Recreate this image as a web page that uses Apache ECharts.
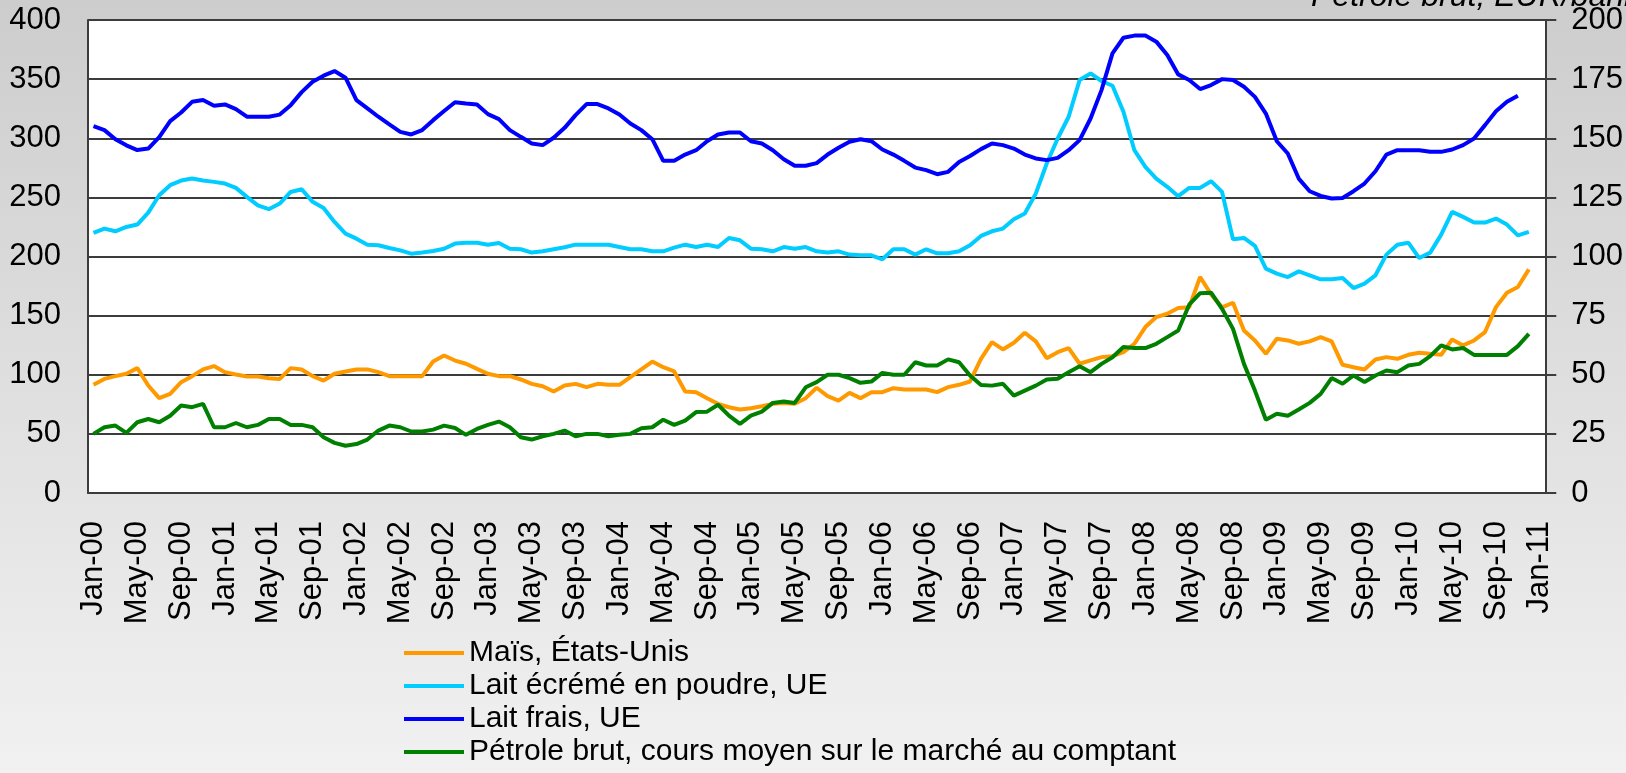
<!DOCTYPE html>
<html>
<head>
<meta charset="utf-8">
<title>Prix des produits agricoles et du pétrole</title>
<script src="https://cdn.jsdelivr.net/npm/echarts@6/dist/echarts.min.js"></script>
<style>
  html, body { margin: 0; padding: 0; }
  #chart { width: 1626px; height: 773px; }
</style>
</head>
<body>
<div id="chart"></div>
<script>
// mois et années de l'axe (Jan-00 ... Jan-11)
var monthNames = ['Jan', 'Feb', 'Mar', 'Apr', 'May', 'Jun', 'Jul', 'Aug', 'Sep', 'Oct', 'Nov', 'Dec']
var years = ['00', '01', '02', '03', '04', '05', '06', '07', '08', '09', '10', '11']

var seriesNames = [
    'Maïs, États-Unis',
    'Lait écrémé en poudre, UE',
    'Lait frais, UE',
    'Pétrole brut, cours moyen sur le marché au comptant'
]
var rightAxisTitle = 'Pétrole brut, EUR/baril'

// Maïs, États-Unis (axe gauche)
var mais = [
    91.5, 96.5, 98.8, 100.8, 105.6, 90.9, 80.2, 83.8, 93.7, 98.8, 104.5, 107.3,
    102.2, 100.2, 98.5, 98.5, 97.1, 96.5, 105.6, 104.5, 98.8, 95.1, 100.8, 102.8,
    104.5, 104.5, 102.2, 98.8, 98.8, 98.8, 98.8, 111.2, 116.3, 112, 109.3, 105,
    100.8, 98.8, 98.8, 96, 92.3, 90.3, 85.8, 90.9, 92.3, 89.5, 92.3, 91.5,
    91.5, 98, 104.5, 111.2, 106.4, 102.8, 85.8, 85.3, 80.2, 75.4, 72.5, 70.6,
    71.7, 73.4, 75.4, 76.2, 75.4, 80.2, 89, 81.9, 78.2, 84.7, 80.2, 85.3,
    85.3, 88.6, 87.5, 87.5, 87.5, 85.3, 89.5, 91.5, 94.3, 113.5, 127.6, 121.4,
    127, 135.5, 128.2, 114, 119.1, 122.5, 109.3, 112.1, 114.9, 115.7, 119.1, 126.2,
    140.3, 148.8, 151.6, 156.4, 157, 182.7, 168, 157, 160.9, 137.5, 129, 117.7,
    130.4, 129, 126.2, 128.2, 131.8, 128.2, 108.4, 106.4, 104.5, 112.9, 114.9, 113.5,
    116.9, 118.6, 117.7, 116.9, 129.9, 124.8, 129, 136.1, 157.2, 169.4, 174.2, 189.1
]

// Lait écrémé en poudre, UE (axe gauche)
var laitEcreme = [
    219.9, 223.6, 221.3, 225, 227, 237.1, 251.8, 260.3, 264.2, 266, 264.2, 263.1,
    261.7, 258, 250.4, 243.3, 240, 244.8, 254.6, 256.9, 246.2, 241, 229.2, 219.3,
    215.1, 210, 209.5, 207.2, 205.2, 202.4, 203.3, 204.7, 206.6, 210.9, 211.7, 211.7,
    210, 211.4, 206.6, 206.1, 203.3, 204.4, 206.1, 207.8, 210, 210, 210, 210,
    208, 206.1, 206.1, 204.4, 204.4, 207.5, 210, 208, 210, 208, 215.7, 213.7,
    206.6, 206.1, 204.4, 208, 206.6, 208, 204.4, 203.3, 204.4, 201.6, 201, 201,
    197.6, 206.1, 206.1, 201.6, 206.1, 202.7, 202.7, 204.4, 209.5, 217.4, 221.3, 223.6,
    231.5, 236.3, 253.2, 278.6, 299.8, 318.2, 349.2, 354.8, 348.4, 344.4, 322.4, 289.9,
    275.8, 265.9, 258.9, 251, 258, 258, 263.7, 254.6, 214.5, 215.7, 208.9, 189.7,
    185.5, 182.6, 187.4, 184.1, 180.7, 180.7, 181.8, 173.3, 177, 184.1, 201.6, 210,
    211.7, 198.7, 203.3, 218.5, 237.7, 233.5, 228.7, 228.7, 232.1, 227, 217.9, 220.8
]

// Lait frais, UE (axe gauche), s'arrête en Nov-10
var laitFrais = [
    310.2, 306.9, 299.2, 294, 290, 291.3, 301, 314.5, 321.8, 330.8, 332.3, 327.5,
    328.6, 324.6, 318.2, 318.2, 318.2, 320, 328, 339, 347.8, 352.9, 356.8, 351.2,
    332.3, 325.2, 318.2, 311.7, 305.4, 303.2, 306.9, 315.3, 323, 330.5, 329.4, 328.6,
    320.4, 316.2, 306.9, 301.2, 295.6, 294.2, 300.4, 308.8, 319.6, 328.9, 328.9, 325.2,
    320.1, 312.5, 306.9, 299.2, 280.9, 280.9, 286.2, 289.9, 297.5, 303.2, 304.9, 304.9,
    297.5, 295.6, 289.9, 282.3, 276.7, 276.7, 279, 286.2, 291.9, 297, 299.2, 297.5,
    290.5, 286.2, 280.9, 275.2, 273, 269.6, 271.6, 280, 285, 290.8, 295.6, 294.2,
    291.3, 286.2, 282.9, 281.5, 283.4, 289.9, 298.4, 316.7, 340.7, 371.8, 385, 386.8,
    386.8, 381.7, 370.4, 354, 349.2, 341.6, 345, 350, 349.2, 343.5, 335, 320.9,
    297.5, 287.1, 265.9, 255.2, 251.2, 249, 249.5, 255.2, 261.7, 272.1, 286.2, 289.9,
    289.9, 289.9, 288.5, 288.5, 290.5, 294.2, 299.8, 311.1, 322.9, 330.8, 335.9
]

// Pétrole brut, EUR/baril (axe droit)
var petrole = [
    25, 27.8, 28.5, 25.4, 29.9, 31.3, 29.9, 32.7, 37, 36.3, 37.7, 27.8,
    27.8, 29.6, 27.8, 28.8, 31.3, 31.3, 28.8, 28.8, 27.8, 23.6, 21.2, 20,
    20.7, 22.6, 26.4, 28.5, 27.8, 26, 26, 26.8, 28.5, 27.5, 24.6, 27.1,
    28.8, 30.2, 27.8, 23.6, 22.6, 24, 25, 26.4, 24, 25, 25, 24,
    24.6, 25, 27.4, 27.8, 31, 28.8, 30.6, 34.2, 34.4, 37.3, 32.7, 29.2,
    32.7, 34.4, 38.1, 38.7, 38.1, 44.7, 46.9, 50, 50, 48.6, 46.6, 47.1,
    50.8, 50, 50, 55.3, 53.9, 53.9, 56.5, 55.3, 49.7, 45.7, 45.4, 46.2,
    41.2, 43.3, 45.4, 48, 48.3, 51.1, 53.6, 51.1, 54.6, 57.4, 61.7, 61.3,
    61.3, 63.1, 65.9, 68.7, 79.6, 84.5, 84.7, 77.9, 69.4, 54.6, 43.3, 31,
    33.5, 32.7, 35.3, 38.1, 41.9, 48.6, 46.2, 49.7, 46.9, 49.7, 51.8, 51.1,
    53.9, 54.6, 57.9, 62.4, 60.7, 61.3, 58.4, 58.4, 58.4, 58.4, 62.1, 67.3
]

var colors = ['#FF9900', '#00CCFF', '#0000FF', '#008000']

// catégories mensuelles Jan-00 ... Jan-11
var categories = []
years.forEach(function (y, idx) {
    monthNames.forEach(function (m, mi) {
        if (idx < years.length - 1 || mi === 0) categories.push(m + '-' + y)
    })
})

var font = '"Liberation Sans", Arial, sans-serif'
var gridColor = '#3c3c3c'

var myEcharts = echarts.init(document.getElementById('chart'))
var option = {
    animation: false,
    backgroundColor: {
        type: 'linear', x: 0, y: 0, x2: 0, y2: 1,
        colorStops: [
            { offset: 0, color: '#cdcdcd' },
            { offset: 1, color: '#f1f1f1' }
        ]
    },
    textStyle: { fontFamily: font, color: '#000' },
    grid: {
        left: 88, right: 78, top: 20, bottom: 280,
        show: true, backgroundColor: '#ffffff', borderWidth: 0
    },
    legend: {
        orient: 'vertical',
        left: 404, top: 638,
        padding: 0,
        itemWidth: 60, itemHeight: 30, itemGap: 3,
        icon: 'path://M0,0H60V4H0Z',
        textStyle: { fontFamily: font, fontSize: 30, color: '#000', lineHeight: 30 },
        data: seriesNames
    },
    graphic: [{
        type: 'text',
        left: 1311, top: -19,
        style: { text: rightAxisTitle, font: 'italic 32px ' + font, fill: '#000' }
    }],
    xAxis: {
        type: 'category',
        data: categories,
        boundaryGap: true,
        axisLine: { lineStyle: { color: gridColor, width: 2 } },
        axisTick: { interval: 3, length: 10, lineStyle: { color: gridColor, width: 2 } },
        axisLabel: { interval: 3, rotate: 90, margin: 28, fontSize: 31, fontFamily: font, color: '#000' },
        splitLine: { show: false }
    },
    yAxis: [{
        type: 'value',
        min: 0, max: 400, interval: 50,
        axisLine: { show: true, lineStyle: { color: gridColor, width: 2 } },
        axisTick: { show: false },
        axisLabel: { margin: 27, fontSize: 31, fontFamily: font, color: '#000' },
        splitLine: { show: true, lineStyle: { color: gridColor, width: 2 } }
    }, {
        type: 'value',
        min: 0, max: 200, interval: 25,
        position: 'right',
        axisLine: { show: true, lineStyle: { color: gridColor, width: 2 } },
        axisTick: { show: true, length: 11, lineStyle: { color: gridColor, width: 2 } },
        axisLabel: { margin: 26, fontSize: 31, fontFamily: font, color: '#000' },
        splitLine: { show: false }
    }],
    series: [
        { name: seriesNames[0], data: mais, yAxisIndex: 0 },
        { name: seriesNames[1], data: laitEcreme, yAxisIndex: 0 },
        { name: seriesNames[2], data: laitFrais, yAxisIndex: 0 },
        { name: seriesNames[3], data: petrole, yAxisIndex: 1 }
    ].map(function (s, i) {
        s.type = 'line'
        s.showSymbol = false
        s.symbol = 'none'
        s.color = colors[i]
        s.lineStyle = { width: 4, color: colors[i] }
        return s
    })
}
myEcharts.setOption(option)
</script>
</body>
</html>
